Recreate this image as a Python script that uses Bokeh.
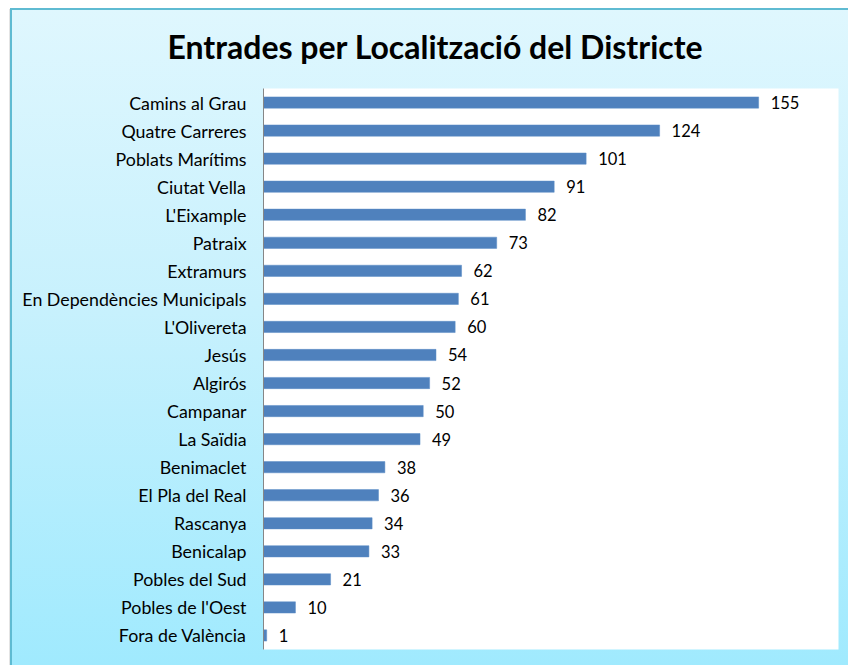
from bokeh.plotting import figure
from bokeh.models import FactorRange, Range1d, ColumnDataSource, LabelSet
from bokeh.core.properties import value
from bokeh.embed import file_html
from bokeh.resources import INLINE

title_text = "Entrades per Localització del Districte"
districts = [
    "Camins al Grau", "Quatre Carreres", "Poblats Marítims", "Ciutat Vella",
    "L'Eixample", "Patraix", "Extramurs", "En Dependències Municipals",
    "L'Olivereta", "Jesús", "Algirós", "Campanar", "La Saïdia", "Benimaclet",
    "El Pla del Real", "Rascanya", "Benicalap", "Pobles del Sud",
    "Pobles de l'Oest", "Fora de València",
]
entries = [155, 124, 101, 91, 82, 73, 62, 61, 60, 54, 52, 50, 49, 38, 36, 34, 33, 21, 10, 1]
x_max = 180

src = ColumnDataSource(dict(d=districts, v=entries, t=[str(v) for v in entries]))

p = figure(
    width=848, height=665,
    y_range=FactorRange(factors=districts[::-1], range_padding=0),
    x_range=Range1d(0, x_max),
    output_backend="svg", toolbar_location=None,
    min_border_left=263, min_border_right=10, min_border_top=88, min_border_bottom=16,
)
line_c = "#5FBBD2"
p.styles = {
    "background": (
        f"linear-gradient({line_c},{line_c}) 10px 8px / 838px 2px no-repeat, "
        f"linear-gradient({line_c},{line_c}) 10px 8px / 2px 657px no-repeat, "
        "linear-gradient(#E4E4E4,#E4E4E4) 9px 9px / 1px 656px no-repeat, "
        "linear-gradient(to bottom, #DFF7FE 0%, #C8F1FD 45%, #A0EAFE 100%) 10px 8px / 838px 657px no-repeat, "
        "#FFFFFF"
    ),
}
p.border_fill_color = None
p.background_fill_color = "white"
p.outline_line_color = None

p.hbar(y="d", left=0, right="v", height=0.4, source=src,
       fill_color="#4F81BD", line_color="#5B8CC6", line_width=0.5)

labels = LabelSet(x="v", y="d", text="t", source=src, x_offset=12,
                  text_baseline="middle", text_align="left",
                  text_font=value("Lato"), text_font_size="16.5px", text_color="#000000")
p.add_layout(labels)

p.title.text = title_text
p.title.align = "left"
p.title.offset = -96
p.title.standoff = 45
p.title.text_font = "Lato"
p.title.text_font_size = "32px"
p.title.text_font_style = "bold"
p.title.text_color = "#000000"

p.xaxis.visible = False
p.xgrid.visible = False
p.ygrid.visible = False
p.yaxis.axis_line_color = "#868686"
p.yaxis.axis_line_width = 1
p.yaxis.major_tick_line_color = None
p.yaxis.minor_tick_line_color = None
p.yaxis.major_label_standoff = 11
p.yaxis.major_label_text_font = "Lato"
p.yaxis.major_label_text_font_size = "17.8px"
p.yaxis.major_label_text_color = "#000000"

open("out.html", "w").write(file_html(p, INLINE))
